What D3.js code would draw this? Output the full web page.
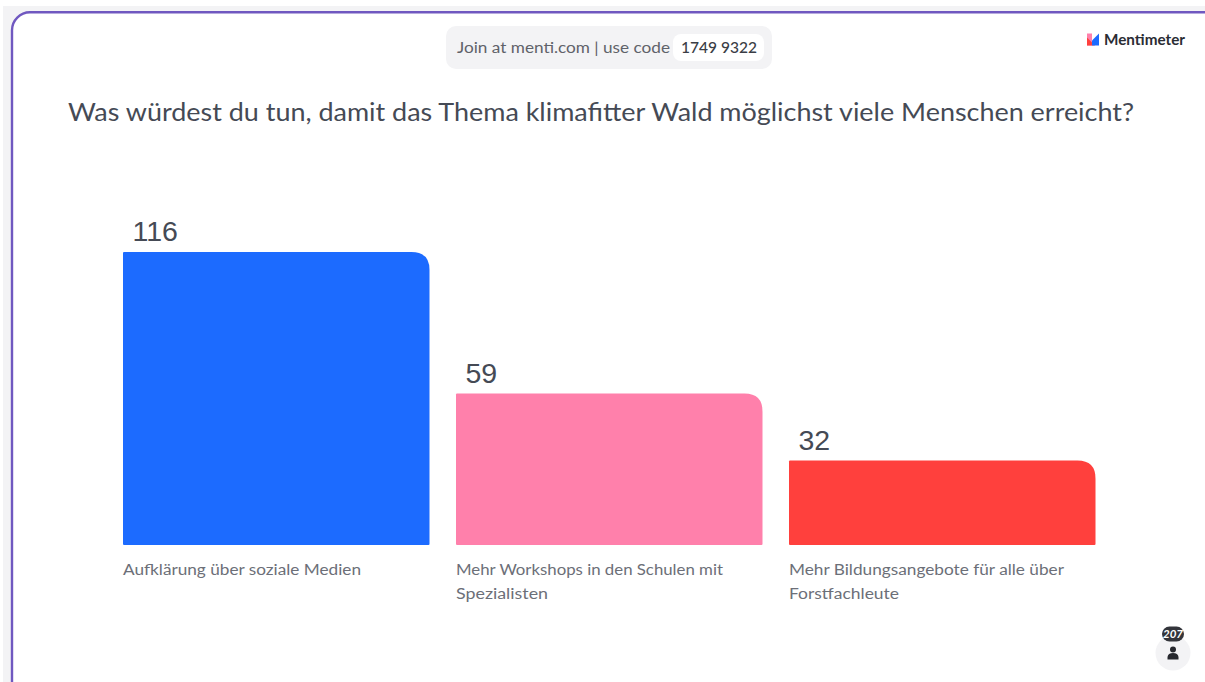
<!DOCTYPE html>
<html><head><meta charset="utf-8">
<script src="https://cdn.jsdelivr.net/npm/d3@7"></script>
<style>html,body{margin:0;padding:0;background:#fff;overflow:hidden}svg{display:block}</style>
</head><body><svg id="c" width="1205" height="682"></svg>
<script>
const categories = ["Aufklärung über soziale Medien","Mehr Workshops in den Schulen mit Spezialisten","Mehr Bildungsangebote für alle über Forstfachleute"];
const labelLines = [["Aufklärung über soziale Medien"],["Mehr Workshops in den Schulen mit","Spezialisten"],["Mehr Bildungsangebote für alle über","Forstfachleute"]];
const values = [116,59,32];
const colors = ["#1c6bff","#ff80ab","#ff403d"];
const title = "Was würdest du tun, damit das Thema klimafitter Wald möglichst viele Menschen erreicht?";

const svg = d3.select("#c");
const F = "Lato, 'Noto Sans', sans-serif";
const ink = "#454a55";

// page frame
svg.append("rect").attr("x",3).attr("y",6).attr("width",1202).attr("height",676).attr("fill","#f3f3f5");
svg.append("rect").attr("x",12).attr("y",12.3).attr("width",1215).attr("height",720).attr("rx",18)
  .attr("fill","#fff").attr("stroke","#7058c0").attr("stroke-width",2.4);

// join pill
svg.append("rect").attr("x",446).attr("y",26).attr("width",326).attr("height",43).attr("rx",10).attr("fill","#f3f3f5");
svg.append("rect").attr("x",673).attr("y",34).attr("width",91).attr("height",27).attr("rx",8).attr("fill","#fff");
svg.append("text").attr("x",457).attr("y",53).attr("font-family",F).attr("font-size",15.5).attr("fill","#5f6269")
  .attr("textLength",213).attr("lengthAdjust","spacingAndGlyphs").text("Join at menti.com | use code");
svg.append("text").attr("x",681).attr("y",53).attr("font-family",F).attr("font-size",15.5).attr("font-weight",500).attr("fill","#3a3d45")
  .attr("textLength",76).attr("lengthAdjust","spacingAndGlyphs").text("1749 9322");

// logo
const logo = svg.append("g").attr("transform","translate(1087,33.5)");
logo.append("rect").attr("width",5).attr("height",12).attr("fill","#ff80ab");
logo.append("path").attr("d","M0 4 L8 12 L0 12 Z").attr("fill","#ff403d");
logo.append("path").attr("d","M5 7 L12 0 L12 12 L5 12 Z").attr("fill","#1c6bff");
svg.append("text").attr("x",1104).attr("y",45).attr("font-family",F).attr("font-size",15.5).attr("font-weight",700).attr("fill","#2a2c34")
  .attr("textLength",81).attr("lengthAdjust","spacingAndGlyphs").text("Mentimeter");

// title
svg.append("text").attr("x",68).attr("y",121).attr("font-family",F).attr("font-size",25.5).attr("fill",ink)
  .attr("textLength",1066).attr("lengthAdjust","spacingAndGlyphs").text(title);

// scales
const x = d3.scaleBand().domain(categories).range([123,1095.5]).paddingInner(26.5/333).paddingOuter(0);
const y = d3.scaleLinear().domain([0,116]).range([540,252]);
const floorPad = 5;
const r = 18;
const barPath = (d,i)=>{
  const l=x(categories[i]), w=x.bandwidth(), t=y(d), b=y(0)+floorPad;
  const p=d3.path();
  p.moveTo(l+1,b); p.quadraticCurveTo(l,b,l,b-1); p.lineTo(l,t+1); p.quadraticCurveTo(l,t,l+1,t);
  p.lineTo(l+w-r,t); p.quadraticCurveTo(l+w,t,l+w,t+r);
  p.lineTo(l+w,b-1); p.quadraticCurveTo(l+w,b,l+w-1,b); p.closePath();
  return p.toString();
};
svg.append("g").selectAll("path").data(values).join("path").attr("d",barPath).attr("fill",(d,i)=>colors[i]);
svg.append("g").selectAll("text").data(values).join("text")
  .attr("x",(d,i)=>x(categories[i])+9.5).attr("y",d=>y(d)-11)
  .attr("font-family","'Liberation Sans',Arial,sans-serif").attr("font-size",28.5).attr("fill",ink)
  .style("font-kerning","normal").style("text-rendering","optimizeLegibility").text(d=>d);

// category labels
const lab = svg.append("g").selectAll("text").data(labelLines).join("text")
  .attr("font-family",F).attr("font-size",15.5).attr("fill","#6c6f78");
lab.each(function(lines,i){
  const widths = [[238],[267,92],[275,110]][i];
  d3.select(this).selectAll("tspan").data(lines).join("tspan")
    .attr("x",x(categories[i])).attr("y",(l,j)=>575+j*24)
    .attr("textLength",(l,j)=>widths[j]).attr("lengthAdjust","spacingAndGlyphs").text(l=>l);
});

// participant badge
svg.append("circle").attr("cx",1173).attr("cy",653).attr("r",17.5).attr("fill","#f3f3f5");
svg.append("rect").attr("x",1162).attr("y",626.5).attr("width",22).attr("height",15).attr("rx",7.5).attr("fill","#33353b");
svg.append("text").attr("x",1173).attr("y",638).attr("text-anchor","middle").attr("font-family",F).attr("font-size",11.5).attr("font-weight",700).attr("font-style","italic").attr("fill","#fff").text("207");
svg.append("circle").attr("cx",1173).attr("cy",649.5).attr("r",3).attr("fill","#26282e");
svg.append("path").attr("d","M1167.5 659.5 L1167.5 657 Q1168 653 1173 653 Q1178 653 1178.5 657 L1178.5 659.5 Z").attr("fill","#26282e");
</script></body></html>
